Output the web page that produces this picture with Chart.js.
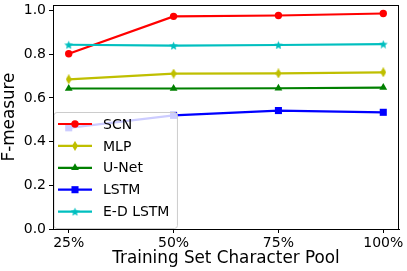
<!DOCTYPE html>
<html lang="en">
<head>
<meta charset="UTF-8">
<title>F-measure vs character pool</title>
<script src="https://cdn.jsdelivr.net/npm/chart.js"></script>
<style>
    html, body { margin: 0; padding: 0; background: #fff; }
    #wrap { width: 407px; height: 271px; }
</style>
</head>
<body>
<div id="wrap"><canvas id="chart" width="407" height="271"></canvas></div>
<script>
    // values
    const pools = [25, 50, 75, 100];
    const scn = [0.802, 0.973, 0.977, 0.986];
    const mlp = [0.685, 0.711, 0.712, 0.717];
    const unet = [0.643, 0.643, 0.644, 0.647];
    const lstm = [0.463, 0.520, 0.542, 0.534];
    const edLstm = [0.843, 0.839, 0.842, 0.846];
    const xTicks = [25, 50, 75, 100];
    const yTicks = [0, 0.2, 0.4, 0.6, 0.8, 1.0];

    const FONT = 'DejaVu Sans';

    // marker images for shapes chart.js lacks (thin diamond, filled star)
    const makeMarker = (shape, color, w, h) => {
        const c = document.createElement('canvas');
        c.width = w; c.height = h;
        const ctx = c.getContext('2d');
        ctx.fillStyle = color;
        ctx.beginPath();
        if (shape === 'diamond') {
            ctx.moveTo(w / 2, 0); ctx.lineTo(w, h / 2); ctx.lineTo(w / 2, h); ctx.lineTo(0, h / 2);
        } else {
            const cx = w / 2, cy = h / 2 + 0.5, ro = w / 2, ri = ro * 0.45;
            for (let i = 0; i < 10; i++) {
                const r = i % 2 ? ri : ro;
                const a = -Math.PI / 2 + i * Math.PI / 5;
                ctx.lineTo(cx + r * Math.cos(a), cy + r * Math.sin(a));
            }
        }
        ctx.closePath();
        ctx.fill();
        return c;
    };
    const diamondImg = makeMarker('diamond', '#bfbf00', 6, 10);
    const starImg = makeMarker('star', '#00bfbf', 9, 9);

    const toPts = arr => arr.map((v, i) => ({x: pools[i], y: v}));
    const series = [
        {label: 'SCN', data: toPts(scn), color: '#ff0000', pointStyle: 'circle', radius: 3.7, order: 4},
        {label: 'MLP', data: toPts(mlp), color: '#bfbf00', pointStyle: diamondImg, radius: 5, order: 3},
        {label: 'U-Net', data: toPts(unet), color: '#008000', pointStyle: 'triangle', radius: 4.5, order: 2},
        {label: 'LSTM', data: toPts(lstm), color: '#0000ff', pointStyle: 'rect', radius: 5, order: 1},
        {label: 'E-D LSTM', data: toPts(edLstm), color: '#00bfbf', pointStyle: starImg, radius: 5, order: 0},
    ];

    const frame = {
        id: 'frame',
        afterDraw(chart) {
            const {ctx, chartArea: a} = chart;
            ctx.save();
            ctx.strokeStyle = '#000';
            ctx.lineWidth = 1;
            ctx.strokeRect(Math.round(a.left) + 0.5, Math.round(a.top) + 0.5,
                Math.round(a.right - a.left) - 1, Math.round(a.bottom - a.top));
            ctx.restore();
        }
    };

    // matplotlib-like legend: line sample with marker, translucent box
    const mplLegend = {
        id: 'mplLegend',
        afterDatasetsDraw(chart) {
            const {ctx, chartArea: a} = chart;
            const sets = chart.data.datasets;
            ctx.save();
            ctx.font = '14px "' + FONT + '"';
            const textW = Math.max(...sets.map(d => ctx.measureText(d.label).width));
            const x0 = a.left + 1, y0 = 112.5;
            const w = 49 + textW + 8, h = 116;
            ctx.beginPath();
            ctx.roundRect(x0, y0, w, h, 3);
            ctx.fillStyle = 'rgba(255,255,255,0.8)';
            ctx.fill();
            ctx.strokeStyle = '#cccccc';
            ctx.lineWidth = 1;
            ctx.stroke();
            sets.forEach((d, i) => {
                const y = 124 + i * 21.9;
                ctx.strokeStyle = d.borderColor;
                ctx.lineWidth = 2.2;
                ctx.beginPath();
                ctx.moveTo(x0 + 4, y);
                ctx.lineTo(x0 + 38, y);
                ctx.stroke();
                ctx.fillStyle = d.borderColor;
                Chart.helpers.drawPoint(ctx, {
                    pointStyle: d.pointStyle, radius: d.pointRadius, rotation: 0, borderWidth: 0
                }, x0 + 21, y);
                ctx.fillStyle = '#000';
                ctx.textBaseline = 'middle';
                ctx.fillText(d.label, x0 + 49, y + 1);
            });
            ctx.restore();
        }
    };

    new Chart(document.getElementById('chart'), {
        type: 'line',
        data: {
            datasets: series.map(s => ({
                label: s.label,
                data: s.data,
                order: s.order,
                borderColor: s.color,
                backgroundColor: s.color,
                pointBackgroundColor: s.color,
                pointBorderColor: s.color,
                pointBorderWidth: 0,
                pointStyle: s.pointStyle,
                pointRadius: s.radius,
                borderWidth: 2.2,
                tension: 0,
                fill: false
            }))
        },
        options: {
            responsive: false,
            animation: false,
            devicePixelRatio: 1,
            layout: {padding: {top: 3, right: 8, left: 0, bottom: 0}},
            plugins: {legend: {display: false}, tooltip: {enabled: false}},
            scales: {
                x: {
                    type: 'linear',
                    min: 21.25,
                    max: 103.75,
                    afterBuildTicks: s => { s.ticks = xTicks.map(v => ({value: v})); },
                    afterFit: s => { s.height = 42; s.paddingLeft = 0; s.paddingRight = 0; },
                    ticks: {
                        callback: v => v + '%',
                        color: '#000',
                        font: {family: FONT, size: 14, lineHeight: 1.2},
                        padding: 2,
                        maxRotation: 0
                    },
                    grid: {drawOnChartArea: false, tickLength: 4, tickColor: '#000', tickWidth: 1},
                    border: {color: '#000', width: 1},
                    title: {
                        display: true,
                        text: 'Training Set Character Pool',
                        color: '#000',
                        font: {family: FONT, size: 16.8, lineHeight: 1.2},
                        padding: {top: 0, bottom: 2}
                    }
                },
                y: {
                    min: 0,
                    max: 1.025,
                    afterBuildTicks: s => { s.ticks = yTicks.map(v => ({value: v})); },
                    afterFit: s => { s.width = 53; s.paddingTop = 0; s.paddingBottom = 0; },
                    ticks: {
                        callback: v => v.toFixed(1),
                        color: '#000',
                        font: {family: FONT, size: 14, lineHeight: 1.2},
                        padding: 3
                    },
                    grid: {drawOnChartArea: false, tickLength: 4, tickColor: '#000', tickWidth: 1},
                    border: {color: '#000', width: 1},
                    title: {
                        display: true,
                        text: 'F-measure',
                        color: '#000',
                        font: {family: FONT, size: 16.8, lineHeight: 1.2},
                        padding: {top: 0, bottom: 0}
                    }
                }
            }
        },
        plugins: [frame, mplLegend]
    });
</script>
</body>
</html>
